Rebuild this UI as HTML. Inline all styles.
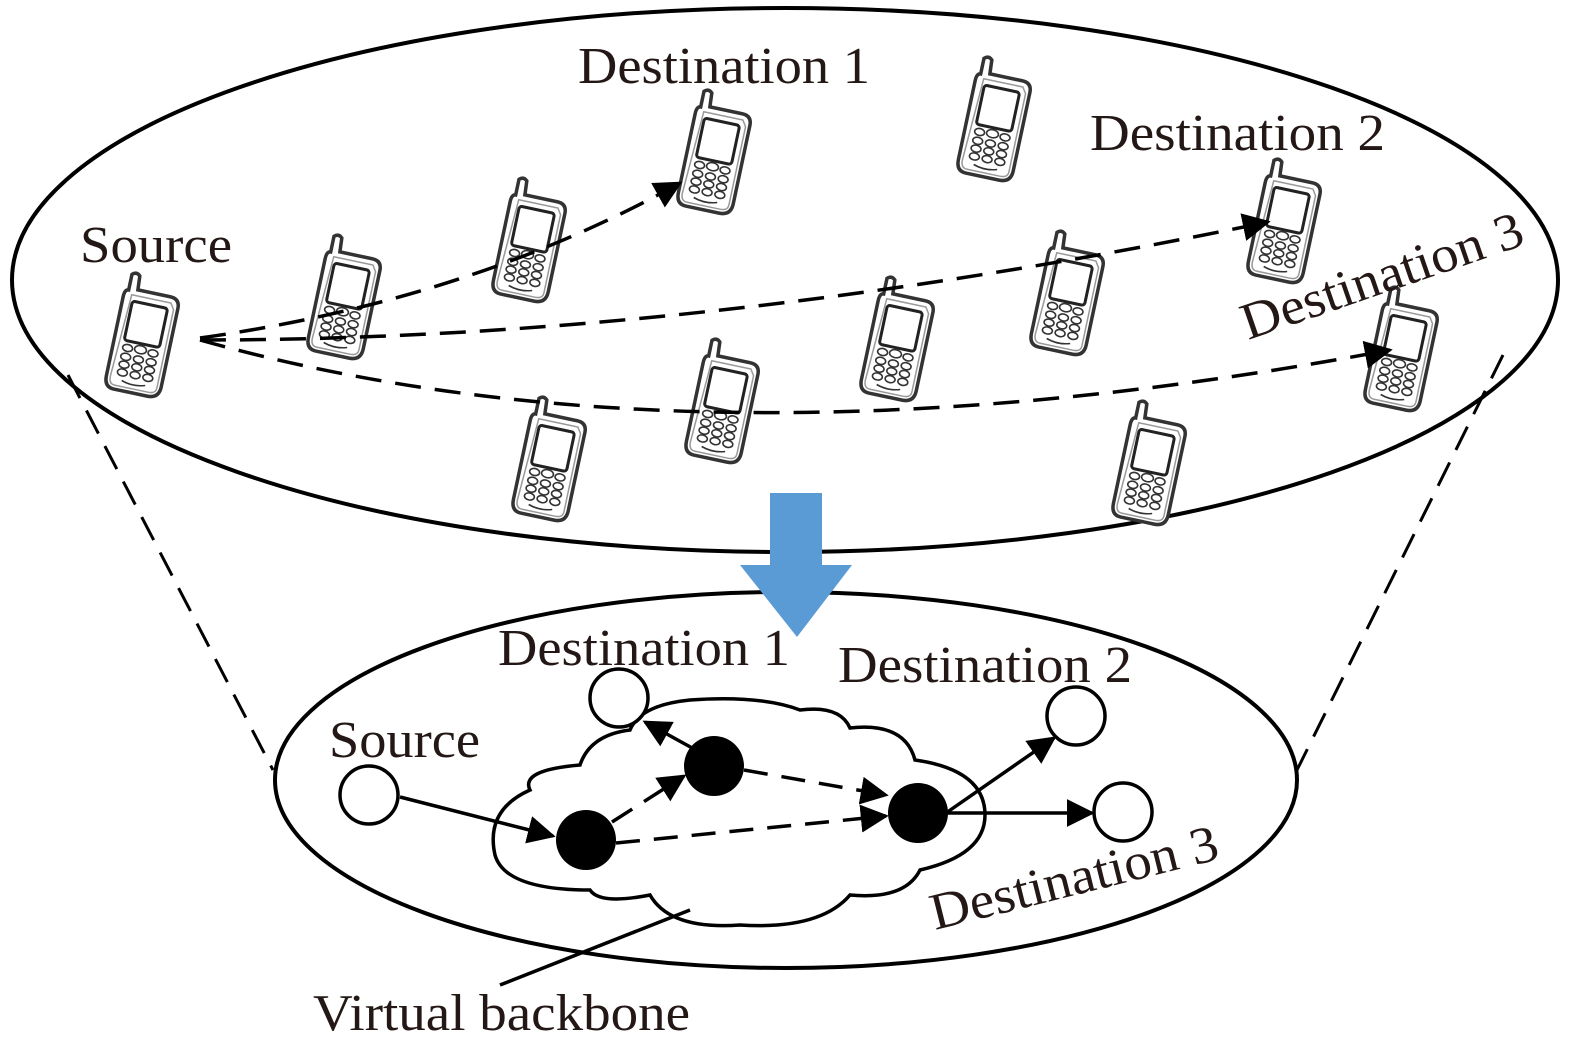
<!DOCTYPE html>
<html><head><meta charset="utf-8"><style>
html,body{margin:0;padding:0;background:#fff;}
svg{display:block;}
text{font-family:"Liberation Serif",serif;fill:#231815;}
</style></head><body>
<svg width="1575" height="1052" viewBox="0 0 1575 1052" xmlns="http://www.w3.org/2000/svg">
<defs>
<g id="ph">
<path d="M-24,-44 L-24,-60 Q-20,-64 -16,-60 L-15,-46 L18,-46 Q28,-46 28,-36 L28,44 Q28,56 16,56 L-18,56 Q-28,56 -28,44 L-28,-36 Q-28,-44 -24,-44 Z" fill="#fff" stroke="#333" stroke-width="3.5"/>
<path d="M-20,-40 L20,-40 L24,-34 L24,46 Q24,52 16,52 L-18,52 Q-24,52 -24,44 Z" fill="none" stroke="#999" stroke-width="1.5"/>
<rect x="-18" y="-34" width="36" height="40" rx="3" fill="#fff" stroke="#222" stroke-width="3"/>
<g fill="none" stroke="#333" stroke-width="1.6">
<ellipse cx="-13" cy="13" rx="5" ry="3.5"/><ellipse cx="0" cy="12" rx="6" ry="4"/><ellipse cx="13" cy="13" rx="5" ry="3.5"/>
<ellipse cx="-13" cy="22" rx="5" ry="3.5"/><ellipse cx="0" cy="22" rx="5" ry="3.5"/><ellipse cx="13" cy="22" rx="5" ry="3.5"/>
<ellipse cx="-13" cy="30" rx="5" ry="3.5"/><ellipse cx="0" cy="30" rx="5" ry="3.5"/><ellipse cx="13" cy="30" rx="5" ry="3.5"/>
<ellipse cx="-13" cy="38" rx="5" ry="3.5"/><ellipse cx="0" cy="38" rx="5" ry="3.5"/><ellipse cx="13" cy="38" rx="5" ry="3.5"/>
<path d="M-12,46 Q0,50 12,46"/>
</g>
</g>
<marker id="a" viewBox="0 0 10 10" refX="9" refY="5" markerWidth="8" markerHeight="8" orient="auto"><path d="M0,0 L10,5 L0,10 Z" fill="#000"/></marker>
</defs>

<ellipse cx="785" cy="280" rx="773" ry="272" fill="none" stroke="#000" stroke-width="4"/>
<line x1="68" y1="375" x2="273" y2="770" stroke="#000" stroke-width="3" stroke-dasharray="26,14"/>
<line x1="1503" y1="355" x2="1297" y2="770" stroke="#000" stroke-width="3" stroke-dasharray="26,14"/>

<g transform="translate(143,338) rotate(12)"><use href="#ph"/></g>
<g transform="translate(345,300) rotate(12)"><use href="#ph"/></g>
<g transform="translate(530,243) rotate(12)"><use href="#ph"/></g>
<g transform="translate(715,155) rotate(12)"><use href="#ph"/></g>
<g transform="translate(995,122) rotate(12)"><use href="#ph"/></g>
<g transform="translate(1285,224) rotate(12)"><use href="#ph"/></g>
<g transform="translate(1068,296) rotate(12)"><use href="#ph"/></g>
<g transform="translate(898,342) rotate(12)"><use href="#ph"/></g>
<g transform="translate(723,404) rotate(12)"><use href="#ph"/></g>
<g transform="translate(550,462) rotate(12)"><use href="#ph"/></g>
<g transform="translate(1150,466) rotate(12)"><use href="#ph"/></g>
<g transform="translate(1402,352) rotate(12)"><use href="#ph"/></g>

<g fill="none" stroke="#000" stroke-width="3.5" stroke-dasharray="26,14">
<path d="M200,338 Q470,300 680,183" marker-end="url(#a)"/>
<path d="M200,340 Q700,340 1268,222" marker-end="url(#a)"/>
<path d="M200,340 Q700,480 1390,350" marker-end="url(#a)"/>
</g>

<text x="80" y="262" font-size="52" textLength="152" lengthAdjust="spacingAndGlyphs">Source</text>
<text x="578" y="83" font-size="52" textLength="292" lengthAdjust="spacingAndGlyphs">Destination 1</text>
<text x="1090" y="150" font-size="52" textLength="295" lengthAdjust="spacingAndGlyphs">Destination 2</text>
<text x="0" y="0" font-size="52" textLength="295" lengthAdjust="spacingAndGlyphs" transform="translate(1248,340) rotate(-19)">Destination 3</text>

<ellipse cx="786" cy="780" rx="511" ry="188" fill="#fff" stroke="#000" stroke-width="4"/>

<path d="M770,493 L822,493 L822,565 L852,565 L797,637 L740,565 L770,565 Z" fill="#5b9bd5"/>

<path d="M530,790 Q520,770 580,765 Q590,735 630,730 Q640,705 690,700 Q760,695 800,710 Q840,705 850,728 Q905,722 915,760 Q985,770 985,815 Q985,855 920,870 Q905,900 850,895 Q820,930 740,925 Q670,930 650,895 Q600,905 590,890 Q505,890 495,855 Q485,810 530,790 Z" fill="#fff" stroke="#000" stroke-width="3.5"/>

<line x1="400" y1="797" x2="553" y2="836" stroke="#000" stroke-width="3.5" marker-end="url(#a)"/>
<line x1="612" y1="822" x2="684" y2="776" stroke="#000" stroke-width="3.5" stroke-dasharray="24,14" marker-end="url(#a)"/>
<line x1="616" y1="843" x2="886" y2="816" stroke="#000" stroke-width="3.5" stroke-dasharray="24,14" marker-end="url(#a)"/>
<line x1="744" y1="770" x2="886" y2="795" stroke="#000" stroke-width="3.5" stroke-dasharray="24,14" marker-end="url(#a)"/>
<line x1="694" y1="749" x2="645" y2="722" stroke="#000" stroke-width="3.5" marker-end="url(#a)"/>
<line x1="946" y1="813" x2="1054" y2="738" stroke="#000" stroke-width="3.5" marker-end="url(#a)"/>
<line x1="946" y1="813" x2="1092" y2="813" stroke="#000" stroke-width="3.5" marker-end="url(#a)"/>
<line x1="500" y1="985" x2="690" y2="910" stroke="#000" stroke-width="3.5"/>

<g fill="#fff" stroke="#000" stroke-width="3.5">
<circle cx="369" cy="795" r="29"/><circle cx="619" cy="698" r="29"/><circle cx="1076" cy="716" r="29"/><circle cx="1123" cy="812" r="29"/>
</g>
<g fill="#000"><circle cx="586" cy="840" r="30"/><circle cx="714" cy="766" r="30"/><circle cx="918" cy="813" r="30"/></g>

<text x="329" y="757" font-size="52" textLength="151" lengthAdjust="spacingAndGlyphs">Source</text>
<text x="498" y="665" font-size="52" textLength="292" lengthAdjust="spacingAndGlyphs">Destination 1</text>
<text x="838" y="682" font-size="52" textLength="294" lengthAdjust="spacingAndGlyphs">Destination 2</text>
<text x="0" y="0" font-size="52" textLength="295" lengthAdjust="spacingAndGlyphs" transform="translate(935,930) rotate(-14)">Destination 3</text>
<text x="313" y="1030" font-size="52" textLength="377" lengthAdjust="spacingAndGlyphs">Virtual backbone</text>
</svg>
</body></html>
